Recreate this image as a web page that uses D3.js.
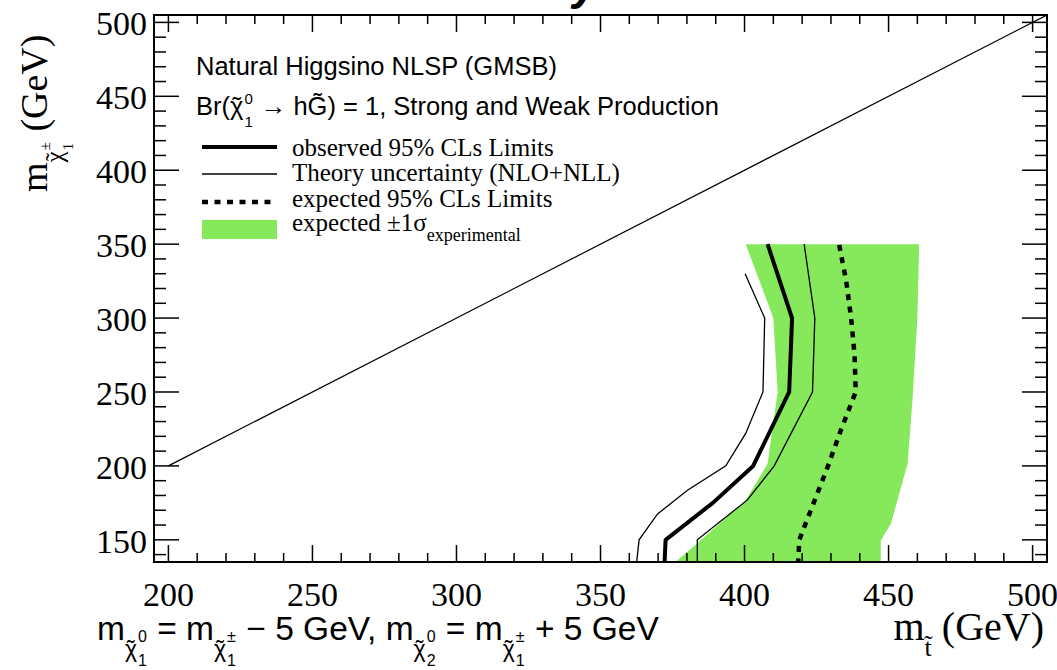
<!DOCTYPE html>
<html>
<head>
<meta charset="utf-8">
<script src="https://cdn.jsdelivr.net/npm/d3@7"></script>
<style>
  html, body { margin: 0; padding: 0; background: #fff; }
  svg { display: block; }
  text { white-space: pre; }
</style>
</head>
<body>
<div id="chart"></div>
<script>
// Natural higgsino NLSP limit plot, stop mass vs chargino mass

// axis ticks
const xTicks = [200, 250, 300, 350, 400, 450, 500];
const yTicks = [150, 200, 250, 300, 350, 400, 450, 500];

// observed limit
const obsChi  = [125, 150, 175, 200, 250, 300, 350];
const obsStop = [372, 372.6, 389, 403, 415.5, 416.5, 408];

// theory uncertainty, lower side
const thLoChi  = [125, 150, 167.5, 183.5, 200, 222, 250, 300, 330];
const thLoStop = [362, 363.4, 369.8, 380.2, 393.5, 400.4, 406.4, 407, 400.2];

// theory uncertainty, upper side
const thHiChi  = [125, 150, 177, 200, 250, 300, 350];
const thHiStop = [383.6, 383.6, 401, 410.3, 423.6, 424.4, 420.7];

// expected limit
const expChi  = [125, 150, 175, 200, 225, 250, 275, 300, 325, 350];
const expStop = [418.4, 419, 424, 429, 433.6, 438.6, 438.2, 437, 435.3, 432.8];

// expected +-1 sigma band
const bandLoChi  = [125, 150, 176.6, 201.5, 250, 300, 350];
const bandLoStop = [370, 385, 400.4, 408, 411.5, 410, 400.4];
const bandHiChi  = [125, 149.5, 160.8, 201.5, 244.4, 300, 350];
const bandHiStop = [447.3, 447.3, 450.8, 456.6, 458.3, 460, 460.6];

// kinematic line m_stop = m_chargino
const diagMass = [200, 505];

const legendEntries = [
  {label: 'observed 95% CLs Limits', kind: 'obs'},
  {label: 'Theory uncertainty (NLO+NLL)', kind: 'th'},
  {label: 'expected 95% CLs Limits', kind: 'exp'},
  {label: 'expected \u00b11\u03c3', sub: 'experimental', kind: 'band'}
];

const W = 1057, H = 670;
const SERIF = '"Liberation Serif", "Times New Roman", serif';
const SANS = '"Liberation Sans", Arial, sans-serif';
const GREEN = '#86e85b';

const frame = {left: 154, right: 1047, top: 15, bottom: 562};

const x = d3.scaleLinear().domain([195, 505]).range([frame.left, frame.right]);
const y = d3.scaleLinear().domain([135, 505]).range([frame.bottom, frame.top]);

const svg = d3.select('#chart').append('svg')
  .attr('width', W).attr('height', H)
  .attr('viewBox', [0, 0, W, H]);

svg.append('defs').append('clipPath').attr('id', 'frameClip')
  .append('rect')
  .attr('x', frame.left).attr('y', frame.top)
  .attr('width', frame.right - frame.left).attr('height', frame.bottom - frame.top);

// title, cut off by the top of the picture (only the descender shows)
svg.append('text')
  .attr('x', 598).attr('y', -1)
  .attr('text-anchor', 'end')
  .style('font-family', SANS)
  .style('font-weight', 'bold')
  .style('font-style', 'italic')
  .style('font-size', '46px')
  .text('CMS Preliminary');

const plot = svg.append('g').attr('clip-path', 'url(#frameClip)');

const line = d3.line().x(d => x(d[0])).y(d => y(d[1]));
const zip = (a, b) => a.map((v, i) => [v, b[i]]);

// band: lower edge up, upper edge back down
const bandPts = zip(bandLoStop, bandLoChi).concat(zip(bandHiStop, bandHiChi).reverse());
plot.append('path')
  .attr('d', line(bandPts) + 'Z')
  .attr('fill', GREEN)
  .attr('stroke', 'none');

plot.append('path')
  .attr('d', line(zip(diagMass, diagMass)))
  .attr('fill', 'none').attr('stroke', '#000').attr('stroke-width', 1.2);

plot.append('path')
  .attr('d', line(zip(thLoStop, thLoChi)))
  .attr('fill', 'none').attr('stroke', '#000').attr('stroke-width', 1.3);

plot.append('path')
  .attr('d', line(zip(thHiStop, thHiChi)))
  .attr('fill', 'none').attr('stroke', '#000').attr('stroke-width', 1.3);

plot.append('path')
  .attr('d', line(zip(expStop, expChi)))
  .attr('fill', 'none').attr('stroke', '#000').attr('stroke-width', 4.5)
  .attr('stroke-dasharray', '6,6.5');

plot.append('path')
  .attr('d', line(zip(obsStop, obsChi)))
  .attr('fill', 'none').attr('stroke', '#000').attr('stroke-width', 4)
  .attr('stroke-linejoin', 'round');

// frame
svg.append('rect')
  .attr('x', frame.left).attr('y', frame.top)
  .attr('width', frame.right - frame.left).attr('height', frame.bottom - frame.top)
  .attr('fill', 'none').attr('stroke', '#000').attr('stroke-width', 2);

// ROOT style ticks on all four sides
const xMinor = d3.range(200, 505, 10);
const yMinor = d3.range(140, 505, 10);
const tickG = svg.append('g').attr('stroke', '#000').attr('stroke-width', 1.5);

xMinor.forEach(v => {
  const len = v % 50 === 0 ? 17 : 9;
  tickG.append('line').attr('x1', x(v)).attr('x2', x(v))
    .attr('y1', frame.bottom).attr('y2', frame.bottom - len);
  tickG.append('line').attr('x1', x(v)).attr('x2', x(v))
    .attr('y1', frame.top).attr('y2', frame.top + len);
});
yMinor.forEach(v => {
  const len = v % 50 === 0 ? 25 : 12;
  tickG.append('line').attr('y1', y(v)).attr('y2', y(v))
    .attr('x1', frame.left).attr('x2', frame.left + len);
  tickG.append('line').attr('y1', y(v)).attr('y2', y(v))
    .attr('x1', frame.right).attr('x2', frame.right - len);
});

svg.append('g').selectAll('text')
  .data(xTicks).join('text')
  .attr('x', d => x(d)).attr('y', 606)
  .attr('text-anchor', 'middle')
  .style('font-family', SERIF).style('font-size', '34px')
  .text(d => d);

svg.append('g').selectAll('text')
  .data(yTicks).join('text')
  .attr('x', 147).attr('y', d => y(d) + 13)
  .attr('text-anchor', 'end')
  .style('font-family', SERIF).style('font-size', '34px')
  .text(d => d);

// one <text> per physics label, built from positioned tspans
function label(g, x0, y0, family) {
  const t = g.append('text')
    .attr('x', x0).attr('y', y0)
    .attr('xml:space', 'preserve')
    .style('font-family', family);
  let cx = x0;
  function span(str, size, dy, px) {
    const s = t.append('tspan')
      .attr('x', px).attr('y', y0 + dy)
      .style('font-size', size + 'px')
      .text(str);
    return [s, s.node().getComputedTextLength()];
  }
  return {
    add(str, size, dy = 0) {
      cx += span(str, size, dy, cx)[1];
      return this;
    },
    // chi with a tilde and stacked super/subscripts
    chi(sup, sub, o) {
      const w = span('\u03c7', o.size, o.dy, cx)[1];
      const [ts, tw] = span('\u02dc', o.size, o.dy, cx);
      ts.attr('x', cx + w / 2 - tw / 2);
      const w1 = span(sup, o.ss, o.sup, cx + w + 1)[1];
      const w2 = span(sub, o.ss, o.sub, cx + w + 1)[1];
      cx += w + Math.max(w1, w2) + 2;
      return this;
    },
    end() { return cx - x0; }
  };
}

// y axis title
const yt = svg.append('g').attr('transform', 'translate(47,192) rotate(-90)');
label(yt, 0, 0, SERIF)
  .add('m', 38)
  .chi('\u00b1', '1', {size: 25, dy: 16, sup: 3, sub: 26, ss: 15})
  .add(' (GeV)', 38);

// x axis title, right aligned
const xt = svg.append('g');
const xtW = label(xt, 0, 0, SERIF)
  .add('m', 40)
  .add('t\u0303', 26, 16)
  .add(' (GeV)', 40)
  .end();
xt.attr('transform', `translate(${1044 - xtW},640)`);

// mass relation below the plot
const rel = svg.append('g').attr('transform', 'translate(97,640)');
{
  const fs = 33.5;
  const o = {size: 23, dy: 17, sup: 2, sub: 26, ss: 16};
  label(rel, 0, 0, SANS)
    .add('m', fs).chi('0', '1', o)
    .add(' = m', fs).chi('\u00b1', '1', o)
    .add(' \u2212 5 GeV, m', fs).chi('0', '2', o)
    .add(' = m', fs).chi('\u00b1', '1', o)
    .add(' + 5 GeV', fs);
}

// legend header lines
const leg = svg.append('g');
label(leg, 196, 75, SANS).add('Natural Higgsino NLSP (GMSB)', 25.5);
label(leg, 196, 115, SANS)
  .add('Br(', 25.5)
  .chi('0', '1', {size: 25.5, dy: 0, sup: -11, sub: 12, ss: 15})
  .add(' \u2192 hG\u0303) = 1, Strong and Weak Production', 25.5);

const rowY = [147, 174, 202, 229];
const textY = [156, 181, 207, 231];
legendEntries.forEach((e, i) => {
  const ly = rowY[i];
  if (e.kind === 'band') {
    leg.append('rect').attr('x', 202).attr('y', 220).attr('width', 75).attr('height', 19)
      .attr('fill', GREEN);
  } else {
    leg.append('line')
      .attr('x1', 202).attr('x2', 277).attr('y1', ly).attr('y2', ly)
      .attr('stroke', '#000')
      .attr('stroke-width', e.kind === 'obs' ? 4 : e.kind === 'exp' ? 4.5 : 1.3)
      .attr('stroke-dasharray', e.kind === 'exp' ? '6,6.5' : null);
  }
  const lab = label(leg, 292, textY[i], SERIF).add(e.label, 25);
  if (e.sub) lab.add(e.sub, 18, 10);
});
</script>
</body>
</html>
